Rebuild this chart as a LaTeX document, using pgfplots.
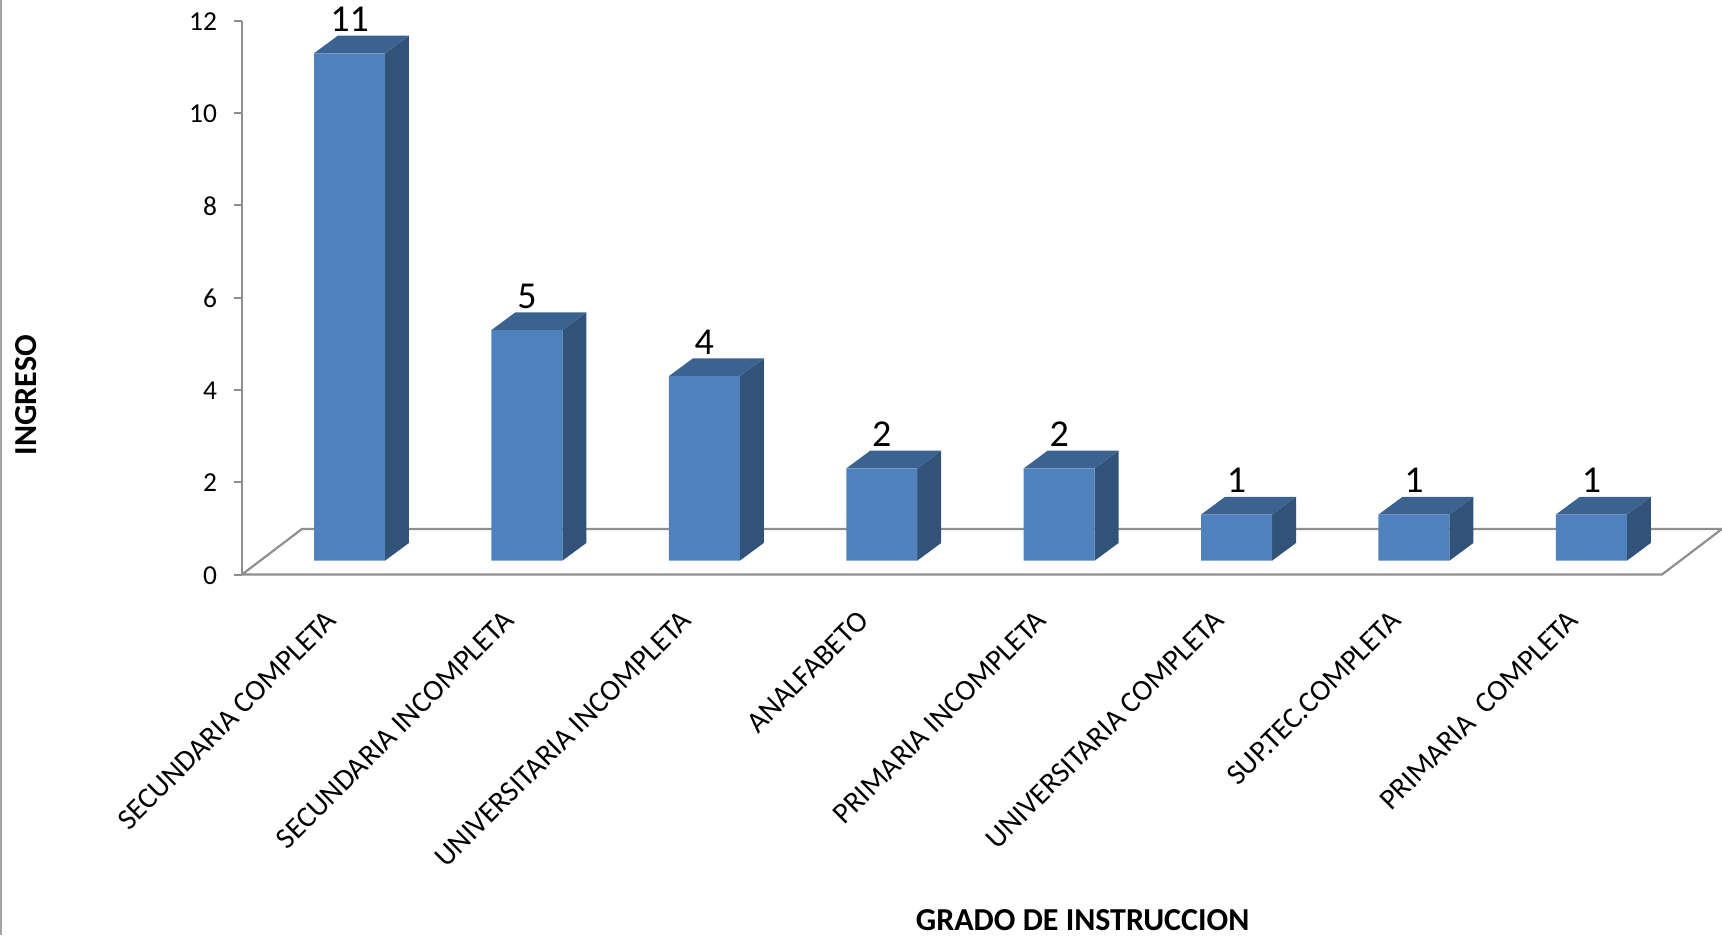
\documentclass[border=0pt]{standalone}
\usepackage{fontspec}
\setmainfont{Carlito}
\usepackage{pgfplots}
\usepackage{pgfplotstable}
\pgfplotsset{compat=1.18}
\definecolor{front}{HTML}{4F81BD}
\definecolor{topf}{HTML}{3C6290}
\definecolor{sidef}{HTML}{325379}
\definecolor{axisgray}{HTML}{8F8F8F}
\pgfplotstableread{
x v
0 11
1 5
2 4
3 2
4 2
5 1
6 1
7 1
}\datatable
\begin{document}
\begin{tikzpicture}
\path[use as bounding box] (-121pt,-180.4pt) rectangle (740pt,287.25pt);
\draw[color=axisgray!80,line width=1pt] (-120.5pt,-180.4pt) -- (-120.5pt,287.25pt);
\begin{axis}[
  scale only axis, width=710pt, height=276.75pt,
  anchor=south west, at={(0pt,0pt)},
  clip=false,
  xmin=-0.606, xmax=7.398, ymin=0, ymax=12,
  axis x line*=bottom, axis y line*=left,
  axis line style={color=axisgray,line width=1.2pt,-},
  x axis line style={draw=none},
  xtick={0,1,2,3,4,5,6,7},
  xticklabels={SECUNDARIA COMPLETA,SECUNDARIA INCOMPLETA,UNIVERSITARIA INCOMPLETA,ANALFABETO,PRIMARIA INCOMPLETA,UNIVERSITARIA COMPLETA,SUP.TEC.COMPLETA,PRIMARIA\ \ COMPLETA},
  xticklabel style={xshift=-12.5pt,yshift=-12.9pt,rotate=45,anchor=north east,font=\fontsize{14.8}{14.8}\selectfont,inner sep=0pt},
  x tick style={draw=none},
  ytick={0,2,4,6,8,10,12},
  y tick style={color=axisgray,line width=1pt},
  tick align=outside,
  major tick length=4pt,
  yticklabel style={font=\fontsize{13.7}{13.7}\selectfont,/pgf/number format/assume math mode=true,inner sep=0pt,xshift=-8.3pt,yshift=-0.4pt},
  xlabel={\bfseries GRADO DE INSTRUCCION},
  ylabel={\bfseries INGRESO},
  every axis x label/.style={at={(axis description cs:0.592,-0.624)},anchor=center,font=\fontsize{16}{16}\selectfont},
  every axis y label/.style={at={(axis description cs:-0.152,0.324)},anchor=center,rotate=90,font=\fontsize{16}{16}\selectfont},
]
% floor
\addplot[draw=axisgray,line width=1.1pt,no marks] coordinates {(-0.606,0) (-0.268,0.987) (7.736,0.987) (7.398,0) (-0.606,0)};

% side faces
\addplot[fill=sidef,draw=none,no marks] coordinates {(0.2,0.3) (0.335,0.684) (0.335,11.684) (0.2,11.3)} -- cycle;
\addplot[fill=sidef,draw=none,no marks] coordinates {(1.2,0.3) (1.335,0.684) (1.335,5.684) (1.2,5.3)} -- cycle;
\addplot[fill=sidef,draw=none,no marks] coordinates {(2.2,0.3) (2.335,0.684) (2.335,4.684) (2.2,4.3)} -- cycle;
\addplot[fill=sidef,draw=none,no marks] coordinates {(3.2,0.3) (3.335,0.684) (3.335,2.684) (3.2,2.3)} -- cycle;
\addplot[fill=sidef,draw=none,no marks] coordinates {(4.2,0.3) (4.335,0.684) (4.335,2.684) (4.2,2.3)} -- cycle;
\addplot[fill=sidef,draw=none,no marks] coordinates {(5.2,0.3) (5.335,0.684) (5.335,1.684) (5.2,1.3)} -- cycle;
\addplot[fill=sidef,draw=none,no marks] coordinates {(6.2,0.3) (6.335,0.684) (6.335,1.684) (6.2,1.3)} -- cycle;
\addplot[fill=sidef,draw=none,no marks] coordinates {(7.2,0.3) (7.335,0.684) (7.335,1.684) (7.2,1.3)} -- cycle;
% top faces
\addplot[fill=topf,draw=none,no marks] coordinates {(-0.2,11.3) (-0.065,11.684) (0.335,11.684) (0.2,11.3)} -- cycle;
\addplot[fill=topf,draw=none,no marks] coordinates {(0.8,5.3) (0.935,5.684) (1.335,5.684) (1.2,5.3)} -- cycle;
\addplot[fill=topf,draw=none,no marks] coordinates {(1.8,4.3) (1.935,4.684) (2.335,4.684) (2.2,4.3)} -- cycle;
\addplot[fill=topf,draw=none,no marks] coordinates {(2.8,2.3) (2.935,2.684) (3.335,2.684) (3.2,2.3)} -- cycle;
\addplot[fill=topf,draw=none,no marks] coordinates {(3.8,2.3) (3.935,2.684) (4.335,2.684) (4.2,2.3)} -- cycle;
\addplot[fill=topf,draw=none,no marks] coordinates {(4.8,1.3) (4.935,1.684) (5.335,1.684) (5.2,1.3)} -- cycle;
\addplot[fill=topf,draw=none,no marks] coordinates {(5.8,1.3) (5.935,1.684) (6.335,1.684) (6.2,1.3)} -- cycle;
\addplot[fill=topf,draw=none,no marks] coordinates {(6.8,1.3) (6.935,1.684) (7.335,1.684) (7.2,1.3)} -- cycle;
% front faces with values
\addplot[ybar,bar width=35.5pt,bar shift=0pt,fill=front,draw=none,yshift=6.9pt,
  nodes near coords,
  every node near coord/.append style={font=\fontsize{19}{19}\selectfont,/pgf/number format/assume math mode=true,anchor=base,inner sep=0pt,yshift=10.9pt,text=black}]
  table[x=x,y=v] {\datatable};
\end{axis}
\end{tikzpicture}
\end{document}
